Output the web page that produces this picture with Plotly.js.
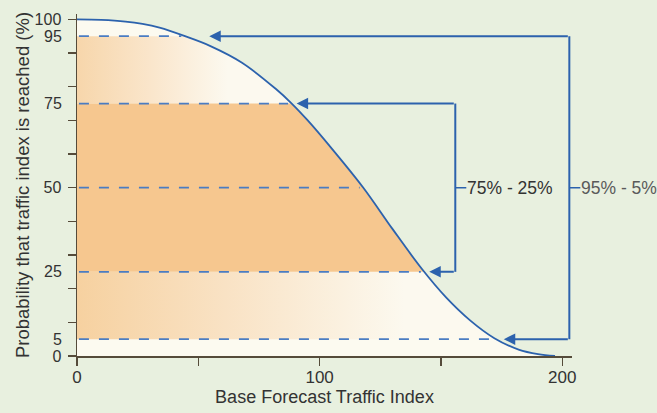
<!DOCTYPE html>
<html><head><meta charset="utf-8">
<script src="https://cdn.plot.ly/plotly-3.0.1.min.js"></script>
<style>html,body{margin:0;padding:0;background:#e8f0df;}#chart{width:657px;height:413px;}</style>
</head><body><div id="chart"></div>
<script>
// ---- data ----
const curveX = [0, 10, 20, 27, 34, 44.5, 55, 68, 82, 88.5, 95, 104, 118, 130, 142, 152, 162, 172, 182, 190, 197];
const curveY = [100, 99.85, 99.35, 98.65, 97.53, 95.0, 92.07, 87.13, 79.3, 75.0, 70.06, 62.5, 50.0, 37.76, 26.0, 17.5, 10.6, 5.3, 1.9, 0.54, 0];
const levels = [95, 75, 50, 25, 5];
const innerBand = [25, 75];
const outerBand = [5, 95];
const bandLabels = ['75% - 25%', '95% - 5%'];
const xTickVals = [0, 50, 100, 150, 200];
const xTickText = ['0', '', '100', '', '200'];
const yTickVals = [0, 10, 20, 30, 40, 50, 60, 70, 80, 90, 100];
const yTickText = ['0', '', '', '', '', '50', '', '', '', '', '100'];
const yExtraVals = [5, 25, 75, 95];
const yExtraText = ['5', '25', '75', '95'];

// ---- styling ----
const BG = '#e8f0df';
const AXIS = '#554b3a';
const BLUE = '#2c62ad';
const DASH = '#4a7cc2';
const FONT = '"Liberation Sans", Arial, Helvetica, sans-serif';
const X_MAX = 204, Y_MAX = 101.6;

function crossX(level) {
  for (let i = 0; i < curveX.length - 1; i++) {
    if (curveY[i] >= level && curveY[i + 1] <= level) {
      const t = (curveY[i] - level) / (curveY[i] - curveY[i + 1]);
      return curveX[i] + t * (curveX[i + 1] - curveX[i]);
    }
  }
  return 0;
}
function band(lo, hi) {
  const xs = [0, crossX(lo)], ys = [lo, lo];
  for (let i = curveX.length - 1; i >= 0; i--) {
    if (curveY[i] > lo && curveY[i] < hi) { xs.push(curveX[i]); ys.push(curveY[i]); }
  }
  xs.push(crossX(hi), 0); ys.push(hi, hi);
  return { xs, ys };
}

const lowBand = band(outerBand[0], innerBand[0]);
const highBand = band(innerBand[1], outerBand[1]);
const midBand = band(innerBand[0], innerBand[1]);

const traces = [
  { x: curveX, y: curveY, mode: 'lines', line: { width: 0, shape: 'spline' }, fill: 'tozerox',
    fillcolor: '#fcfaf0', hoverinfo: 'skip', showlegend: false },
  { x: lowBand.xs, y: lowBand.ys, mode: 'lines', line: { width: 0 }, fill: 'toself',
    fillgradient: { type: 'horizontal', start: 0, stop: 135,
      colorscale: [[0, '#f6d1a0'], [0.45, '#f9e2c4'], [1, '#fcf9ef']] },
    hoverinfo: 'skip', showlegend: false },
  { x: highBand.xs, y: highBand.ys, mode: 'lines', line: { width: 0 }, fill: 'toself',
    fillgradient: { type: 'horizontal', start: 0, stop: 62,
      colorscale: [[0, '#f7d6ab'], [0.5, '#fae6cc'], [1, '#fcf9ef']] },
    hoverinfo: 'skip', showlegend: false },
  { x: midBand.xs, y: midBand.ys, mode: 'lines', line: { width: 0 }, fill: 'toself',
    fillcolor: '#f6c78f', hoverinfo: 'skip', showlegend: false },
  { x: curveX, y: curveY, mode: 'lines', line: { color: BLUE, width: 1.8, shape: 'spline' },
    hoverinfo: 'skip', showlegend: false },
  { x: [0], y: [0], yaxis: 'y2', mode: 'none', hoverinfo: 'skip', showlegend: false }
];

const shapes = levels.map(l => ({
  type: 'line', xref: 'x', yref: 'y', x0: 0.8, x1: crossX(l) - 1.5, y0: l, y1: l,
  line: { color: DASH, width: 1.8, dash: '10px,10px' }
}));

const bracketX = [155.9, 202.9];
const bands = [innerBand, outerBand];
const tipOffset = [[2, 2], [3, 10]]; // [low, high] offsets right of the curve crossing
bands.forEach((b, k) => {
  shapes.push({ type: 'line', xref: 'x', yref: 'y', x0: bracketX[k], x1: bracketX[k], y0: b[0], y1: b[1],
    line: { color: BLUE, width: 2 } });
});

const annotations = [];
bands.forEach((b, k) => {
  [0, 1].forEach(j => {
    annotations.push({
      xref: 'x', yref: 'y', axref: 'x', ayref: 'y',
      x: crossX(b[j]) + tipOffset[k][j], y: b[j], ax: bracketX[k], ay: b[j],
      text: '', showarrow: true, arrowhead: 2, arrowsize: 1.15, arrowwidth: 2, arrowcolor: BLUE
    });
  });
  annotations.push({
    xref: 'x', yref: 'y', x: bracketX[k], y: (b[0] + b[1]) / 2, ax: 11, ay: 0,
    xanchor: 'left', yanchor: 'middle', text: bandLabels[k], showarrow: true, arrowhead: 0,
    arrowwidth: 1.5, arrowcolor: BLUE, borderpad: 0, standoff: 0,
    font: { family: FONT, size: 17.5, color: k === 0 ? '#333333' : '#5a5a5a' }
  });
});

const layout = {
  width: 657, height: 413,
  margin: { l: 77, r: 85, t: 14, b: 57, pad: 0 },
  paper_bgcolor: BG, plot_bgcolor: BG,
  font: { family: FONT, color: '#333333' },
  showlegend: false,
  xaxis: {
    range: [0, X_MAX], tickvals: xTickVals, ticktext: xTickText,
    ticks: 'outside', ticklen: 8, tickwidth: 1.5, tickcolor: AXIS,
    showline: true, linecolor: AXIS, linewidth: 1.5, showgrid: false, zeroline: false,
    tickfont: { size: 17, color: '#333333' }, ticklabelstandoff: -3,
    title: { text: 'Base Forecast Traffic Index', font: { size: 18, color: '#333333' }, standoff: 0 }
  },
  yaxis: {
    range: [0, Y_MAX], tickvals: yTickVals, ticktext: yTickText,
    ticks: 'outside', ticklen: 8, tickwidth: 1.5, tickcolor: AXIS,
    showline: true, linecolor: AXIS, linewidth: 1.5, showgrid: false, zeroline: false,
    tickfont: { size: 16, color: '#333333' }, ticklabelstandoff: 3,
    title: { text: 'Probability that traffic index is reached (%)', font: { size: 18.5, color: '#333333' }, standoff: 0 }
  },
  yaxis2: {
    overlaying: 'y', side: 'left', anchor: 'x',
    range: [0, Y_MAX], tickvals: yExtraVals, ticktext: yExtraText,
    ticks: 'outside', ticklen: 8, tickcolor: 'rgba(0,0,0,0)',
    showline: false, showgrid: false, zeroline: false,
    tickfont: { size: 16, color: '#333333' }, ticklabelstandoff: 3
  },
  shapes: shapes,
  annotations: annotations
};

Plotly.newPlot('chart', traces, layout, { staticPlot: true, displayModeBar: false });
</script>
</body></html>
